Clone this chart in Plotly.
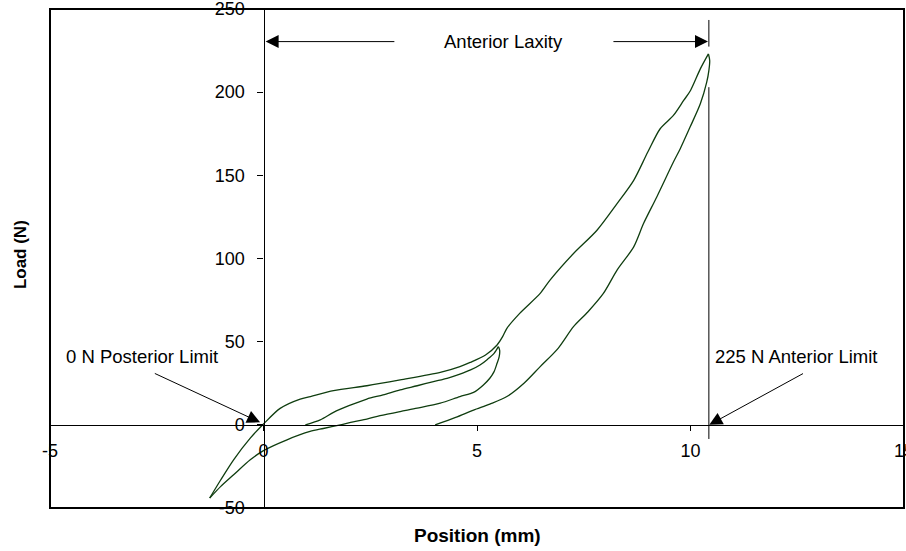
import plotly.graph_objects as go

# ---- data (position mm, load N) ----
initial_load_x = [0.98, 1.33, 1.64, 2.0, 2.42, 2.8, 3.2, 3.6, 3.98, 4.3, 4.6, 4.85, 5.07, 5.25, 5.4, 5.5]
initial_load_y = [0, 3, 7.5, 11.5, 15.5, 18, 21, 23.5, 26, 28, 30.5, 33, 36, 39.5, 43, 47]

unload_post_x = [5.5, 5.53, 5.52, 5.47, 5.4, 5.3, 5.15, 4.92, 4.6, 4.14, 3.6, 3.2, 2.73, 2.42, 2.1,
                 1.8, 1.4, 1.09, 0.55, 0.0, -0.31, -0.7, -1.0, -1.26]
unload_post_y = [47, 45, 41, 37, 32, 28, 24, 19.5, 17, 13, 10, 8, 5.5, 3.5, 1.8,
                 0, -2.2, -4, -9, -15.5, -21, -30, -37, -44]

reload_x = [-1.26, -1.0, -0.7, -0.31, 0.0, 0.39, 0.86, 1.1, 1.64, 2.42, 3.2, 4.14, 4.6, 4.84, 5.2,
            5.47, 5.6, 5.7, 6.0, 6.48, 6.71, 7.26, 7.81, 8.28, 8.67, 9.0, 9.29, 9.6, 9.84, 10.0,
            10.23, 10.42]
reload_y = [-44, -33, -21, -8, 0.5, 9.9, 15.5, 17, 20.5, 23.5, 27, 31.5, 35, 37.5, 42,
            48, 53, 58, 67, 79, 87, 103, 117, 133, 147, 164, 178, 186, 195, 201,
            214, 223]

final_unload_x = [10.42, 10.45, 10.43, 10.38, 10.23, 9.99, 9.76, 9.6, 9.21, 8.9, 8.67, 8.28, 7.96,
                  7.6, 7.26, 6.9, 6.48, 6.1, 5.7, 5.3, 4.92, 4.5, 4.02]
final_unload_y = [223, 219, 213, 206, 193, 179, 166, 158, 137, 121, 107, 93, 79,
                  68, 59, 46, 35, 25, 17, 12.5, 8.9, 4.5, 0]

x_ticks = [-5, 0, 5, 10, 15]
y_ticks = [-50, 0, 50, 100, 150, 200, 250]
x_range = [-5, 15]
y_range = [-50, 250]

# annotation geometry (data units)
limit_x = 10.43
laxity_y = 230.4
laxity_left_tail = 3.1
laxity_right_tail = 8.16
post_tip = (-0.08, 1.5)
post_tail = (-2.58, 31.3)
ant_tip = (10.44, 0.0)
ant_tail = (12.67, 31.3)
label_y = 40.8

FONT = "Arial, Liberation Sans, sans-serif"
CURVE = "#0f3d0f"

fig = go.Figure()
for xs, ys in [(initial_load_x, initial_load_y), (unload_post_x, unload_post_y),
               (reload_x, reload_y), (final_unload_x, final_unload_y)]:
    fig.add_trace(go.Scatter(x=xs, y=ys, mode="lines",
                             line=dict(color=CURVE, width=1.3, shape="spline", smoothing=0.8),
                             showlegend=False, hoverinfo="skip"))

# vertical limit line (two segments with a gap at the peak)
for y0, y1 in [(227.4, 243.4), (-8.5, 203.0)]:
    fig.add_shape(type="line", xref="x", yref="y", x0=limit_x, x1=limit_x, y0=y0, y1=y1,
                  line=dict(color="black", width=1))

# frame
fig.add_shape(type="rect", xref="paper", yref="paper", x0=0, x1=1, y0=0, y1=1,
              line=dict(color="black", width=2), layer="above")

ann = []
arrow_common = dict(showarrow=True, arrowhead=2, arrowsize=2.6, arrowwidth=1,
                    arrowcolor="black", axref="x", ayref="y", xref="x", yref="y",
                    text="", standoff=0, startstandoff=0)
ann.append(dict(x=0.05, y=laxity_y, ax=laxity_left_tail, ay=laxity_y, **arrow_common))
ann.append(dict(x=limit_x - 0.02, y=laxity_y, ax=laxity_right_tail, ay=laxity_y, **arrow_common))
ann.append(dict(x=post_tip[0], y=post_tip[1], ax=post_tail[0], ay=post_tail[1], **arrow_common))
ann.append(dict(x=ant_tip[0], y=ant_tip[1], ax=ant_tail[0], ay=ant_tail[1], **arrow_common))

txt_font = dict(family=FONT, size=18.5, color="black")
ann.append(dict(x=(laxity_left_tail + laxity_right_tail) / 2, y=laxity_y, text="Anterior Laxity",
                showarrow=False, xref="x", yref="y", xanchor="center", yanchor="middle",
                font=txt_font))
ann.append(dict(x=-4.67, y=label_y, text="0 N Posterior Limit", xanchor="left", yanchor="middle",
                showarrow=False, xref="x", yref="y", font=txt_font))
ann.append(dict(x=10.53, y=label_y, text="225 N Anterior Limit", xanchor="left", yanchor="middle",
                showarrow=False, xref="x", yref="y", font=txt_font))

ann.append(dict(x=0.5, y=-0.056, xref="paper", yref="paper", text="<b>Position (mm)</b>",
                xanchor="center", yanchor="middle", showarrow=False,
                font=dict(family=FONT, size=19, color="black")))
ann.append(dict(x=-0.035, y=0.507, xref="paper", yref="paper", text="<b>Load (N)</b>",
                xanchor="center", yanchor="middle", showarrow=False, textangle=-90,
                font=dict(family=FONT, size=17, color="black")))

fig.update_layout(
    width=906, height=551,
    margin=dict(l=50, r=2, t=9, b=43, autoexpand=False),
    paper_bgcolor="white", plot_bgcolor="white",
    annotations=ann,
    xaxis=dict(range=x_range, tickvals=x_ticks, ticktext=[str(v) for v in x_ticks],
               anchor="free", position=(0 - y_range[0]) / (y_range[1] - y_range[0]),
               showline=True, linecolor="black", linewidth=1.3, ticks="outside",
               ticklen=5, tickcolor="black", showgrid=False, zeroline=False,
               automargin=False, ticklabeloverflow="allow", ticklabelstandoff=4,
               tickfont=dict(family=FONT, size=18, color="black")),
    yaxis=dict(range=y_range, tickvals=y_ticks, ticktext=[str(v) for v in y_ticks],
               anchor="free", position=(0 - x_range[0]) / (x_range[1] - x_range[0]),
               showline=True, linecolor="black", linewidth=1.3, ticks="outside",
               ticklen=6, tickcolor="black", showgrid=False, zeroline=False,
               automargin=False, ticklabeloverflow="allow", ticklabelstandoff=9,
               tickfont=dict(family=FONT, size=18, color="black")),
)

fig.write_html("out.html")
